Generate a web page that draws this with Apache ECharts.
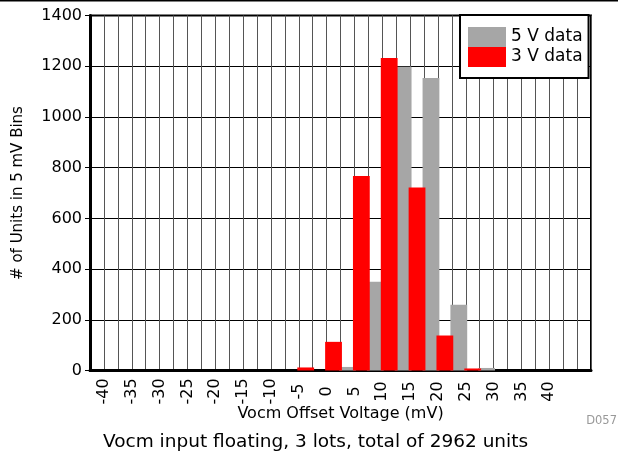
<!DOCTYPE html>
<html>
<head>
<meta charset="utf-8">
<script src="https://cdn.jsdelivr.net/npm/echarts@6/dist/echarts.min.js"></script>
<style>
  html, body { margin: 0; padding: 0; background: #fff; }
  #chart { width: 618px; height: 460px; }
</style>
</head>
<body>
<div id="chart"></div>
<script>
// Histogram of Vocm offset voltage, 5 mV bins (bin start values in mV)
const BIN_WIDTH = 5;
const binStarts = [-5, 0, 5, 10, 15, 20, 25];
const counts5V = [0, 14, 350, 1198, 1154, 259, 10];
const counts3V = [12, 113, 767, 1232, 722, 138, 8];

// Axis tick labels
const xTickLabels = ['-40', '-35', '-30', '-25', '-20', '-15', '-10', '-5', '0', '5', '10', '15', '20', '25', '30', '35', '40'];
const yTickLabels = ['0', '200', '400', '600', '800', '1000', '1200', '1400'];

const FONT = 'DejaVu Sans';

// Each bar sits on the centre of its bin
const toPoints = counts => binStarts.map((b, i) => [b + BIN_WIDTH / 2, counts[i]]);

const chart = echarts.init(document.getElementById('chart'), null, { renderer: 'canvas' });

chart.setOption({
  animation: false,
  backgroundColor: '#fff',
  textStyle: { fontFamily: FONT, color: '#000' },
  grid: {
    left: 90, right: 27, top: 15.5, bottom: 89.5,
    show: true, borderColor: '#000', borderWidth: 2, backgroundColor: '#fff'
  },
  legend: {
    left: 460, top: 15,
    orient: 'vertical',
    data: ['5 V data', '3 V data'],
    icon: 'rect',
    itemWidth: 38, itemHeight: 20, itemGap: 0,
    selectedMode: false,
    backgroundColor: '#fff',
    borderColor: '#000', borderWidth: 2,
    padding: [12, 6, 11, 8],
    textStyle: { fontFamily: FONT, fontSize: 17, color: '#000' }
  },
  xAxis: {
    type: 'value',
    min: -42.5, max: 47.5, interval: 2.5,
    name: 'Vocm Offset Voltage (mV)',
    nameLocation: 'middle',
    nameMoveOverlap: false,
    nameGap: 35,
    nameTextStyle: { fontFamily: FONT, fontSize: 16, color: '#000' },
    axisLine: { show: true, onZero: false, lineStyle: { color: '#000', width: 3 } },
    axisTick: { show: false },
    splitLine: { show: true, lineStyle: { color: '#555', width: 1 } },
    axisLabel: {
      rotate: 90,
      align: 'center',
      margin: 21,
      fontFamily: FONT, fontSize: 16, color: '#000',
      showMinLabel: true, showMaxLabel: true,
      formatter: v => {
        const lbl = xTickLabels.find(t => Math.abs(Number(t) - v) < 1e-6);
        return lbl === undefined ? '' : lbl;
      }
    }
  },
  yAxis: {
    type: 'value',
    min: 0, max: 1400, interval: 200,
    name: '# of Units in 5 mV Bins',
    nameLocation: 'middle',
    nameMoveOverlap: false,
    nameGap: 64,
    nameTextStyle: { fontFamily: FONT, fontSize: 15, color: '#000' },
    axisLine: { show: true, onZero: false, lineStyle: { color: '#000', width: 3 } },
    axisTick: { show: true, inside: false, length: 5, lineStyle: { color: '#000', width: 1 } },
    splitLine: { show: true, lineStyle: { color: '#000', width: 1 } },
    axisLabel: {
      margin: 8,
      fontFamily: FONT, fontSize: 16, color: '#000',
      formatter: v => yTickLabels.find(t => Number(t) === v) || ''
    }
  },
  series: [
    {
      name: '3 V data',
      type: 'bar',
      data: toPoints(counts3V),
      barWidth: 16.8,
      barGap: '-17%',
      itemStyle: { color: '#ff0000' },
      z: 3
    },
    {
      name: '5 V data',
      type: 'bar',
      data: toPoints(counts5V),
      barWidth: 16.8,
      barGap: '-17%',
      itemStyle: { color: '#a6a6a6' },
      z: 2
    }
  ],
  graphic: [
    {
      type: 'line',
      shape: { x1: 0, y1: 0.75, x2: 618, y2: 0.75 },
      style: { stroke: '#000', lineWidth: 1.5 },
      silent: true
    },
    {
      type: 'text',
      left: 103, top: 433,
      style: {
        text: 'Vocm input floating, 3 lots, total of 2962 units',
        fontFamily: FONT, fontSize: 18.5, fill: '#000'
      },
      silent: true
    },
    {
      type: 'text',
      right: 1, top: 415,
      style: { text: 'D057', fontFamily: FONT, fontSize: 11.5, fill: '#999' },
      silent: true
    }
  ]
});
</script>
</body>
</html>
